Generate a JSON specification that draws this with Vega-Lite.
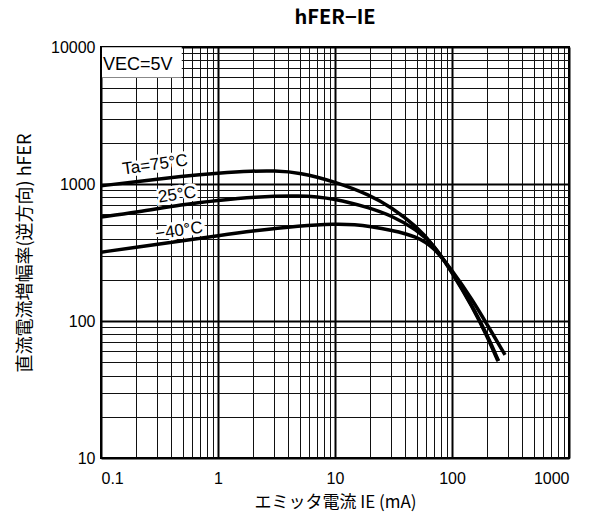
{
  "$schema": "https://vega.github.io/schema/vega-lite/v6.json",
  "width": 468,
  "height": 411,
  "autosize": {"type": "none"},
  "padding": {"left": 101, "top": 47, "right": 30, "bottom": 60},
  "background": "white",
  "title": {"text": "hFER−IE", "font": "Noto Sans CJK JP", "fontSize": 20, "fontWeight": "bold", "color": "black", "anchor": "middle", "offset": 11},
  "config": {
    "view": {"stroke": "black", "strokeWidth": 2},
    "axis": {
      "ticks": false,
      "domain": false,
      "labelFont": "Liberation Sans",
      "labelFontSize": 16,
      "labelColor": "black",
      "titleFont": "Noto Sans CJK JP",
      "titleFontSize": 16,
      "titleFontWeight": "normal",
      "titleColor": "black",
      "gridOpacity": 1
    }
  },
  "datasets": {
    "curves": [
      {"series": "75", "ie": 0.1, "hfe": 970},
      {"series": "75", "ie": 0.2, "hfe": 1040},
      {"series": "75", "ie": 0.5, "hfe": 1140},
      {"series": "75", "ie": 1, "hfe": 1200},
      {"series": "75", "ie": 2, "hfe": 1245},
      {"series": "75", "ie": 3, "hfe": 1250},
      {"series": "75", "ie": 5, "hfe": 1215},
      {"series": "75", "ie": 10, "hfe": 1040},
      {"series": "75", "ie": 20, "hfe": 830},
      {"series": "75", "ie": 30, "hfe": 680},
      {"series": "75", "ie": 50, "hfe": 490},
      {"series": "75", "ie": 70, "hfe": 355},
      {"series": "75", "ie": 100, "hfe": 228},
      {"series": "75", "ie": 150, "hfe": 126},
      {"series": "75", "ie": 200, "hfe": 77},
      {"series": "75", "ie": 247, "hfe": 51},
      {"series": "25", "ie": 0.1, "hfe": 575},
      {"series": "25", "ie": 0.2, "hfe": 620},
      {"series": "25", "ie": 0.5, "hfe": 710},
      {"series": "25", "ie": 1, "hfe": 760},
      {"series": "25", "ie": 2, "hfe": 805},
      {"series": "25", "ie": 5, "hfe": 830},
      {"series": "25", "ie": 10, "hfe": 785},
      {"series": "25", "ie": 20, "hfe": 668},
      {"series": "25", "ie": 30, "hfe": 590},
      {"series": "25", "ie": 50, "hfe": 465},
      {"series": "25", "ie": 70, "hfe": 358},
      {"series": "25", "ie": 100, "hfe": 230},
      {"series": "25", "ie": 150, "hfe": 128},
      {"series": "25", "ie": 200, "hfe": 79},
      {"series": "25", "ie": 250, "hfe": 51},
      {"series": "-40", "ie": 0.1, "hfe": 318},
      {"series": "-40", "ie": 0.2, "hfe": 345},
      {"series": "-40", "ie": 0.5, "hfe": 385},
      {"series": "-40", "ie": 1, "hfe": 420},
      {"series": "-40", "ie": 2, "hfe": 455},
      {"series": "-40", "ie": 5, "hfe": 495},
      {"series": "-40", "ie": 10, "hfe": 512},
      {"series": "-40", "ie": 15, "hfe": 505},
      {"series": "-40", "ie": 20, "hfe": 490},
      {"series": "-40", "ie": 30, "hfe": 462},
      {"series": "-40", "ie": 50, "hfe": 415},
      {"series": "-40", "ie": 70, "hfe": 345},
      {"series": "-40", "ie": 100, "hfe": 235},
      {"series": "-40", "ie": 150, "hfe": 142},
      {"series": "-40", "ie": 200, "hfe": 94},
      {"series": "-40", "ie": 284, "hfe": 56.5}
    ],
    "labels": [
      {"t": "Ta=75°C", "ie": 0.29, "hfe": 1377},
      {"t": "25°C", "ie": 0.447, "hfe": 832},
      {"t": "−40°C", "ie": 0.465, "hfe": 454}
    ],
    "box": [
      {"ie": 0.102, "ie2": 0.49, "hfe": 6000, "hfe2": 9950}
    ],
    "cond": [
      {"t": "VEC=5V", "ie": 0.104, "hfe": 7450}
    ]
  },
  "layer": [
    {
      "data": {"name": "box"},
      "mark": {"type": "rect", "fill": "white", "stroke": null},
      "encoding": {
        "x": {
          "field": "ie", "type": "quantitative",
          "scale": {"type": "log", "domain": [0.1, 1000], "nice": false},
          "axis": {
            "title": "エミッタ電流 IE (mA)",
            "titleFontSize": 17,
            "values": [0.1,0.2,0.3,0.4,0.5,0.6,0.7,0.8,0.9,1,2,3,4,5,6,7,8,9,10,20,30,40,50,60,70,80,90,100,200,300,400,500,600,700,800,900,1000],
            "labelExpr": "indexof([0.1,1,10,100,1000], datum.value) >= 0 ? format(datum.value, '~g') : ''",
            "labelPadding": 12,
            "titlePadding": 8,
            "grid": true,
            "gridColor": {"condition": {"test": "indexof([0.1,1,10,100,1000], datum.value) >= 0", "value": "black"}, "value": "#111111"},
            "gridWidth": {"condition": {"test": "indexof([0.1,1,10,100,1000], datum.value) >= 0", "value": 2}, "value": 1}
          }
        },
        "x2": {"field": "ie2"},
        "y": {
          "field": "hfe", "type": "quantitative",
          "scale": {"type": "log", "domain": [10, 10000], "nice": false},
          "axis": {
            "title": "直流電流増幅率(逆方向) hFER",
            "titleFontSize": 18,
            "values": [10,20,30,40,50,60,70,80,90,100,200,300,400,500,600,700,800,900,1000,2000,3000,4000,5000,6000,7000,8000,9000,10000],
            "labelExpr": "indexof([10,100,1000,10000], datum.value) >= 0 ? format(datum.value, '~g') : ''",
            "labelPadding": 6,
            "titlePadding": 16,
            "grid": true,
            "gridColor": {"condition": {"test": "indexof([10,100,1000,10000], datum.value) >= 0", "value": "black"}, "value": "#111111"},
            "gridWidth": {"condition": {"test": "indexof([10,100,1000,10000], datum.value) >= 0", "value": 2}, "value": 1}
          }
        },
        "y2": {"field": "hfe2"}
      }
    },
    {
      "data": {"name": "curves"},
      "mark": {"type": "line", "interpolate": "basis", "strokeWidth": 3.5, "color": "black", "clip": true},
      "encoding": {
        "x": {"field": "ie", "type": "quantitative"},
        "y": {"field": "hfe", "type": "quantitative"},
        "detail": {"field": "series"}
      }
    },
    {
      "data": {"name": "labels"},
      "mark": {"type": "text", "font": "Liberation Sans", "fontSize": 17, "angle": 352, "align": "center", "baseline": "middle", "color": "white", "stroke": "white", "strokeWidth": 6},
      "encoding": {
        "x": {"field": "ie", "type": "quantitative"},
        "y": {"field": "hfe", "type": "quantitative"},
        "text": {"field": "t"}
      }
    },
    {
      "data": {"name": "labels"},
      "mark": {"type": "text", "font": "Liberation Sans", "fontSize": 17, "angle": 352, "align": "center", "baseline": "middle", "color": "black"},
      "encoding": {
        "x": {"field": "ie", "type": "quantitative"},
        "y": {"field": "hfe", "type": "quantitative"},
        "text": {"field": "t"}
      }
    },
    {
      "data": {"name": "cond"},
      "mark": {"type": "text", "font": "Liberation Sans", "fontSize": 18, "align": "left", "baseline": "middle", "color": "black"},
      "encoding": {
        "x": {"field": "ie", "type": "quantitative"},
        "y": {"field": "hfe", "type": "quantitative"},
        "text": {"field": "t"}
      }
    }
  ]
}
